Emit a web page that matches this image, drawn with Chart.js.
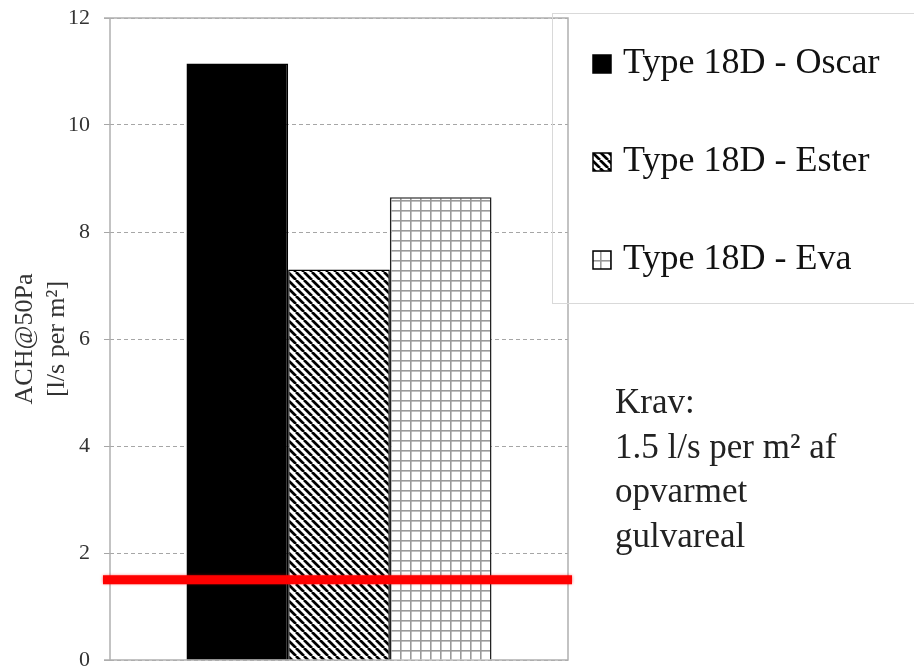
<!DOCTYPE html>
<html>
<head>
<meta charset="utf-8">
<script src="https://cdn.jsdelivr.net/npm/chart.js@4/dist/chart.umd.min.js"></script>
<style>
  html, body { margin: 0; padding: 0; background: #fff; }
  #wrap { width: 914px; height: 671px; }
</style>
</head>
<body>
<div id="wrap"><canvas id="chart"></canvas></div>
<script>
const categories = [""];
const seriesLabels = ["Type 18D - Oscar", "Type 18D - Ester", "Type 18D - Eva"];
const oscarValues = [11.15];
const esterValues = [7.3];
const evaValues = [8.65];
const yTicks = [0, 2, 4, 6, 8, 10, 12];
const yTitle = ["ACH@50Pa", "[l/s per m²]"];
const kravValue = 1.5;
const kravLines = ["Krav:", "1.5 l/s per m² af", "opvarmet", "gulvareal"];

const SERIF = '"Liberation Serif", "Times New Roman", serif';
Chart.defaults.font.family = SERIF;

// hatch fills, like the office chart
const makePattern = (size, draw) => {
    const c = document.createElement("canvas");
    c.width = size;
    c.height = size;
    const g = c.getContext("2d");
    g.fillStyle = "#fff";
    g.fillRect(0, 0, size, size);
    draw(g, size);
    return c.getContext("2d").createPattern(c, "repeat");
};

const stripes = makePattern(8, (g, s) => {
    g.strokeStyle = "#000";
    g.lineWidth = 2.7;
    g.beginPath();
    for (let k = -1; k <= 1; k++) {
        g.moveTo(k * s, 0);
        g.lineTo(k * s + s, s);
    }
    g.stroke();
});

const grid = makePattern(10, (g, s) => {
    g.fillStyle = "#9a9a9a";
    g.fillRect(0, 0, s, 1.6);
    g.fillRect(0, 0, 1.6, s);
});

// plot frame + red requirement line + legend box + note
const decorations = {
    id: "decorations",
    beforeDatasetsDraw(chart) {
        const { ctx, chartArea: a } = chart;
        ctx.save();
        ctx.strokeStyle = "#b0b0b0";
        ctx.lineWidth = 1.5;
        ctx.beginPath();
        ctx.moveTo(a.left - 6, a.top);
        ctx.lineTo(a.right, a.top);
        ctx.lineTo(a.right, a.bottom);
        ctx.lineTo(a.left - 6, a.bottom);
        ctx.moveTo(a.left, a.top);
        ctx.lineTo(a.left, a.bottom);
        ctx.stroke();
        ctx.restore();
    },
    afterDatasetsDraw(chart) {
        const { ctx, chartArea: a } = chart;
        const y = chart.scales.y.getPixelForValue(kravValue);
        ctx.save();
        ctx.strokeStyle = "#ff0000";
        ctx.lineWidth = 9;
        ctx.shadowColor = "rgba(255,0,0,0.6)";
        ctx.shadowBlur = 3;
        ctx.beginPath();
        ctx.moveTo(a.left - 7, y);
        ctx.lineTo(a.right + 4, y);
        ctx.stroke();
        ctx.restore();
    },
    afterDraw(chart) {
        const { ctx } = chart;
        ctx.save();
        // legend
        ctx.strokeStyle = "#d9d9d9";
        ctx.lineWidth = 1;
        ctx.strokeRect(552.5, 13.5, 400, 290);
        ctx.font = "36px " + SERIF;
        ctx.textBaseline = "alphabetic";
        chart.data.datasets.forEach((ds, i) => {
            const base = 73 + i * 98;
            ctx.fillStyle = ds.backgroundColor;
            ctx.fillRect(593, base - 18, 18, 18);
            ctx.strokeStyle = "#000";
            ctx.lineWidth = 1.5;
            ctx.strokeRect(593, base - 18, 18, 18);
            ctx.fillStyle = "#111";
            ctx.fillText(ds.label, 623, base);
        });
        // requirement note
        ctx.font = "35px " + SERIF;
        ctx.fillStyle = "#222";
        kravLines.forEach((t, i) => ctx.fillText(t, 615, 413 + i * 44.7));
        ctx.restore();
    },
};

new Chart(document.getElementById("chart"), {
    type: "bar",
    data: {
        labels: categories,
        datasets: [
            { label: seriesLabels[0], data: oscarValues, backgroundColor: "#000", borderColor: "#000", borderWidth: 1.5 },
            { label: seriesLabels[1], data: esterValues, backgroundColor: stripes, borderColor: "#000", borderWidth: 1.5 },
            { label: seriesLabels[2], data: evaValues, backgroundColor: grid, borderColor: "#222", borderWidth: 1.5 },
        ],
    },
    options: {
        responsive: true,
        maintainAspectRatio: false,
        animation: false,
        layout: { padding: { top: 18, right: 346, bottom: 11, left: 0 } },
        datasets: { bar: { categoryPercentage: 0.666, barPercentage: 1 } },
        plugins: {
            legend: { display: false },
            tooltip: { enabled: false },
        },
        scales: {
            x: { display: false },
            y: {
                min: 0,
                max: 12,
                afterBuildTicks: (axis) => {
                    axis.ticks = yTicks.map((value) => ({ value }));
                },
                afterFit: (axis) => {
                    axis.width = 110;
                    axis.paddingTop = 0;
                    axis.paddingBottom = 0;
                },
                grid: {
                    color: "#a6a6a6",
                    lineWidth: 1,
                    tickLength: 6,
                    tickColor: "#a6a6a6",
                },
                border: { display: false, dash: [4, 3] },
                ticks: {
                    padding: 14,
                    color: "#333",
                    font: { size: 22 },
                },
                title: {
                    display: true,
                    text: yTitle,
                    color: "#333",
                    font: { size: 26, lineHeight: 1.23 },
                    padding: { top: 9, bottom: 0 },
                },
            },
        },
    },
    plugins: [decorations],
});
</script>
</body>
</html>
